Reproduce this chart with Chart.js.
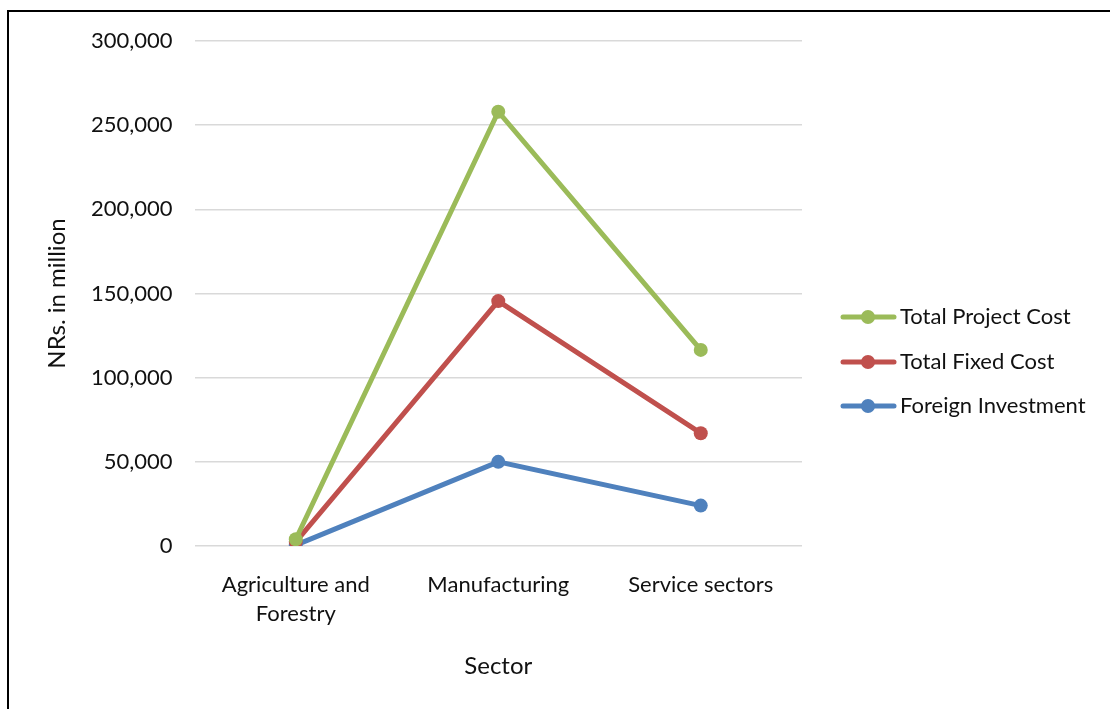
<!DOCTYPE html>
<html>
<head>
<meta charset="utf-8">
<script src="https://cdn.jsdelivr.net/npm/chart.js@4/dist/chart.umd.min.js"></script>
<style>
  html, body { margin: 0; padding: 0; background: #fff; overflow: hidden; }
  #wrap { position: relative; width: 1110px; height: 709px; }
  #frame { position: absolute; left: 7px; top: 10px; width: 1200px; height: 800px;
           border: 2.5px solid #000; box-sizing: border-box; pointer-events: none; }
  canvas { position: absolute; left: 0; top: 0; }
</style>
</head>
<body>
<div id="wrap">
  <canvas id="sector-chart" width="1110" height="709"></canvas>
  <div id="frame"></div>
</div>
<script>
const sectors = [['Agriculture and', 'Forestry'], 'Manufacturing', 'Service sectors'];
const totalProjectCost = [4000, 258000, 116500];
const totalFixedCost = [2500, 145500, 67000];
const foreignInvestment = [500, 50000, 24000];
const seriesNames = ['Total Project Cost', 'Total Fixed Cost', 'Foreign Investment'];
const seriesColors = ['#9BBB59', '#C0504D', '#4F81BD'];

const FONT = 'Lato, "Noto Sans", sans-serif';

// legend drawn by hand: line with a dot, like the office style
const sideLegend = {
    id: 'sideLegend',
    afterDraw(chart) {
        const c = chart.ctx;
        const ys = [317, 362, 406];
        chart.data.datasets.forEach(function(ds, i) {
            const y = ys[i];
            c.save();
            c.strokeStyle = ds.borderColor;
            c.lineWidth = 5;
            c.lineCap = 'round';
            c.beginPath();
            c.moveTo(843, y);
            c.lineTo(894, y);
            c.stroke();
            c.fillStyle = ds.borderColor;
            c.beginPath();
            c.arc(868, y, 7, 0, Math.PI * 2);
            c.fill();
            c.fillStyle = '#111';
            c.font = '22px ' + FONT;
            c.textBaseline = 'middle';
            c.fillText(ds.label, 900, y);
            c.restore();
        });
    }
};

document.addEventListener('DOMContentLoaded', function() {
    const ctx = document.getElementById('sector-chart').getContext('2d');
    const data = [totalProjectCost, totalFixedCost, foreignInvestment];
    new Chart(ctx, {
        type: 'line',
        data: {
            labels: sectors,
            datasets: seriesNames.map(function(name, i) {
                return {
                    label: name,
                    data: data[i],
                    borderColor: seriesColors[i],
                    backgroundColor: seriesColors[i],
                    borderWidth: 5,
                    pointRadius: 7,
                    pointHoverRadius: 7,
                    pointBorderWidth: 0,
                    tension: 0
                };
            })
        },
        options: {
            responsive: false,
            animation: false,
            layout: { padding: { left: 45, right: 308, top: 41, bottom: 24 } },
            plugins: { legend: { display: false }, tooltip: { enabled: false } },
            scales: {
                x: {
                    offset: true,
                    grid: { display: false },
                    border: { display: false },
                    ticks: { color: '#111', font: { family: FONT, size: 22, lineHeight: 1.3 }, padding: 17 },
                    title: { display: true, text: 'Sector', color: '#111',
                             font: { family: FONT, size: 24 }, padding: { top: 7 } }
                },
                y: {
                    min: 0, max: 300000,
                    ticks: { stepSize: 50000, color: '#111', padding: 22,
                             font: { family: FONT, size: 22 },
                             callback: function(v) { return v.toLocaleString('en-US'); } },
                    grid: { color: '#d9d9d9', lineWidth: 1.5, drawTicks: false },
                    border: { display: false },
                    title: { display: true, text: 'NRs. in million', color: '#111',
                             font: { family: FONT, size: 24, lineHeight: 1 }, padding: { top: 0, bottom: 0 } }
                }
            }
        },
        plugins: [sideLegend]
    });
});
</script>
</body>
</html>
